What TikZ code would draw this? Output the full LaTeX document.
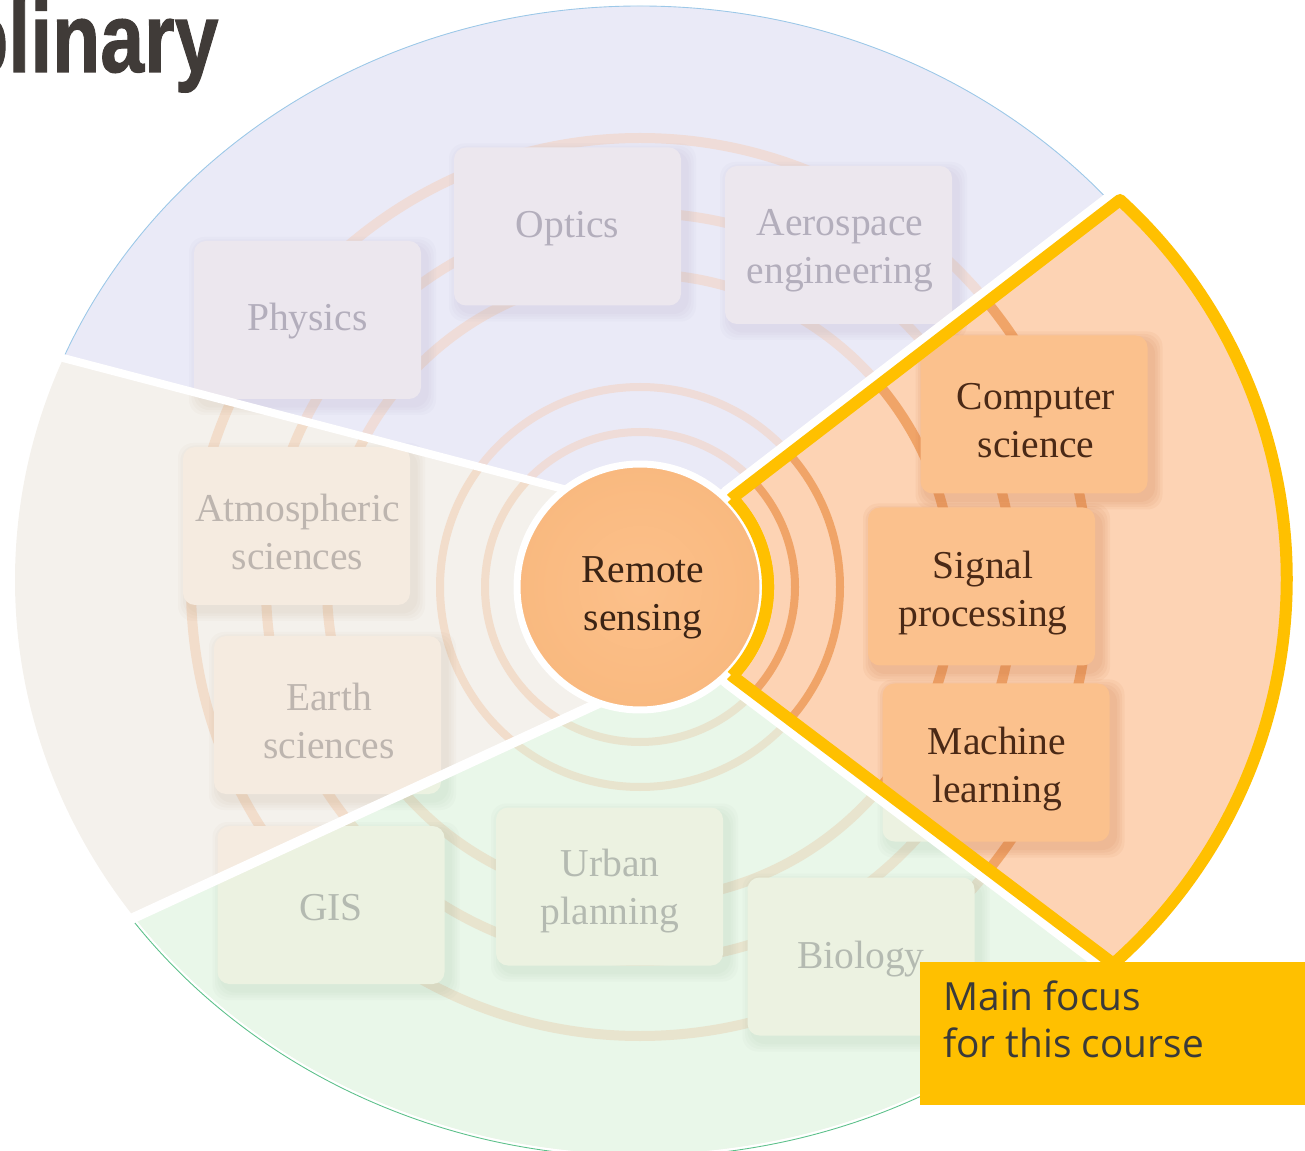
\documentclass[tikz,border=0pt]{standalone}
\usepackage{fontspec}
\usepackage{graphicx}
\setmainfont{Liberation Serif}
\newfontfamily\focusfont{Open Sans}
\newfontfamily\titlefont[BoldFeatures={FakeBold=1.2}]{Liberation Sans}
\usetikzlibrary{calc}
\definecolor{pbg}{HTML}{EAEAF7}
\definecolor{bbg}{HTML}{F4F1EC}
\definecolor{gbg}{HTML}{E9F7E9}
\definecolor{obg}{HTML}{FDD3B4}
\definecolor{pbox}{HTML}{ECE7EE}
\definecolor{bbox}{HTML}{F5EBE0}
\definecolor{gbox}{HTML}{ECF2E1}
\definecolor{obox}{HTML}{FBC18D}
\definecolor{pring}{HTML}{EFDCD8}
\definecolor{bring}{HTML}{F2DDCB}
\definecolor{gring}{HTML}{E8E4CE}
\definecolor{oring}{HTML}{F0A468}
\definecolor{ptext}{HTML}{B3AEBC}
\definecolor{btext}{HTML}{BDB5AF}
\definecolor{gtext}{HTML}{B4BAB1}
\definecolor{otext}{HTML}{4A2916}
\definecolor{ctext}{HTML}{3B2314}
\definecolor{pshadow}{HTML}{9A90B0}
\definecolor{bshadow}{HTML}{B09070}
\definecolor{gshadow}{HTML}{90A890}
\definecolor{oshadow}{HTML}{C87040}
\definecolor{focus}{HTML}{FFC000}
\definecolor{focustext}{HTML}{3A3A3A}
\definecolor{titlec}{HTML}{403B38}
\definecolor{circin}{HTML}{FCC08A}
\definecolor{circout}{HTML}{F9B97F}
\definecolor{edgeblue}{HTML}{9CC8E8}
\definecolor{edgegreen}{HTML}{5CC08A}
\newcommand\lblfont{\fontsize{22.5pt}{27.2pt}\selectfont}
\newcommand\boxlist{307.5/320, 567.5/226.5, 838.5/245, 1034/414.5, 981.5/586.5, 996/762.5, 296.5/526, 327.5/715, 331/905, 609.5/886.5, 861/956.5}
\newcommand\drawboxes[3]{%
  \foreach \bx/\by in \boxlist {
    \foreach \k in {1,2,3,4} {
      \fill[#2, opacity=#3, rounded corners=0.3cm] (\bx-108.5-\k*2.5, \by-73-\k*2.5) rectangle (\bx+118.5+\k*2.5, \by+85+\k*2.5);
    }
  }
  \foreach \bx/\by in \boxlist {
    \fill[#1, rounded corners=0.24cm] (\bx-113.5,\by-79) rectangle (\bx+113.5,\by+79);
  }
}
\newcommand\drawrings[1]{%
  \foreach \r/\w in {155/8,200/8,313/10,374/10,449/10} {
    \draw[#1, line width=\w*0.02cm] (640,587) circle[radius=\r];
  }
}
\newcommand\sectorpath{(732.1,498.1) -- (1120,200) arc[start angle=-47.5, end angle=48.5, radius=514] -- (732.1,675.9) arc[start angle=44, end angle=-44, radius=128] -- cycle}
\newcommand\purplepath{(-300,263) -- (-300,-300) -- (1500,-300) -- (1500,587) -- (640,587) -- (640,509) -- cycle}
\newcommand\greenpath{(-300,1118) -- (-300,1500) -- (1500,1500) -- (1500,587) -- (640,587) -- (640,684) -- cycle}
\tikzset{lbl/.style={align=center, inner sep=0pt, font=\lblfont}}
\begin{document}
\begin{tikzpicture}[x=0.02cm, y=-0.02cm]
\useasboundingbox (0,0) rectangle (1305,1151);
% title fragment
\node[anchor=base west, inner sep=0pt, text=titlec, font=\titlefont\bfseries\fontsize{56pt}{60pt}\selectfont] (title) at (-40,72) {\scalebox{0.8}[1]{plinary}};
% three faded sectors
\begin{scope}
  \clip (640,580) ellipse [x radius=625, y radius=574];
  \fill[bbg] (-300,-300) rectangle (1500,1500);
  \drawrings{bring}
  \drawboxes{bbox}{bshadow}{0.04}
  \begin{scope}
    \clip \purplepath;
    \fill[pbg] (-300,-300) rectangle (1500,1500);
    \drawrings{pring}
    \drawboxes{pbox}{pshadow}{0.04}
  \end{scope}
  \begin{scope}
    \clip \greenpath;
    \fill[gbg] (-300,-300) rectangle (1500,1500);
    \drawrings{gring}
    \drawboxes{gbox}{gshadow}{0.04}
  \end{scope}
\end{scope}
% thin outer edges
\begin{scope}
  \clip \purplepath;
  \draw[edgeblue, line width=0.5pt] (640,580) ellipse [x radius=625, y radius=574];
\end{scope}
\begin{scope}
  \clip \greenpath;
  \draw[edgegreen, line width=0.5pt] (640,580) ellipse [x radius=628, y radius=577];
\end{scope}
% separators
\draw[white, line width=0.16cm] (-300,263) -- (640,509);
\draw[white, line width=0.2cm] (-300,1118) -- (640,684);
% highlighted sector
\draw[white, line width=0.56cm, line join=round] \sectorpath;
\fill[obg] \sectorpath;
\begin{scope}
  \clip \sectorpath;
  \drawrings{oring}
  \drawboxes{obox}{oshadow}{0.07}
\end{scope}
\draw[focus, line width=0.24cm, line join=round] \sectorpath;
% centre
\node[circle, minimum size=4.92cm, inner sep=0pt, draw=white, line width=0.14cm, inner color=circin, outer color=circout] (centre) at (640,587) {};
\draw[focus, line width=0.24cm] (732.1,498.1) arc[start angle=-44, end angle=44, radius=128];
\node[lbl, text=ctext] (centretext) at (643,598) {Remote\\sensing};
% labels
\node[lbl, text=ptext] (physics) at (307.5,321) {Physics};
\node[lbl, text=ptext] (optics) at (567.5,229) {Optics};
\node[lbl, text=ptext] (aero) at (840,251) {Aerospace\\engineering};
\node[lbl, text=otext] (cs) at (1036,421) {Computer\\science};
\node[lbl, text=otext] (sp) at (983,593) {Signal\\processing};
\node[lbl, text=otext] (ml) at (997,769) {Machine\\learning};
\node[lbl, text=btext] (atmo) at (297.5,532) {Atmospheric\\sciences};
\node[lbl, text=btext] (earth) at (329,721) {Earth\\sciences};
\node[lbl, text=gtext] (gis) at (331,908) {GIS};
\node[lbl, text=gtext] (urban) at (610,891) {Urban\\planning};
\node[lbl, text=gtext] (bio) at (861,959) {Biology};
% focus box
\node[fill=focus, minimum width=7.9cm, minimum height=2.86cm, anchor=north west, inner sep=0pt] (focusbox) at (920,962) {};
\node[anchor=base west, inner sep=0pt, text=focustext, font=\focusfont\fontsize{22.1pt}{26.6pt}\selectfont] (focusa) at (943,1010) {Main focus};
\node[anchor=base west, inner sep=0pt, text=focustext, font=\focusfont\fontsize{22.1pt}{26.6pt}\selectfont] (focusb) at (943,1057) {for this course};
\end{tikzpicture}
\end{document}
